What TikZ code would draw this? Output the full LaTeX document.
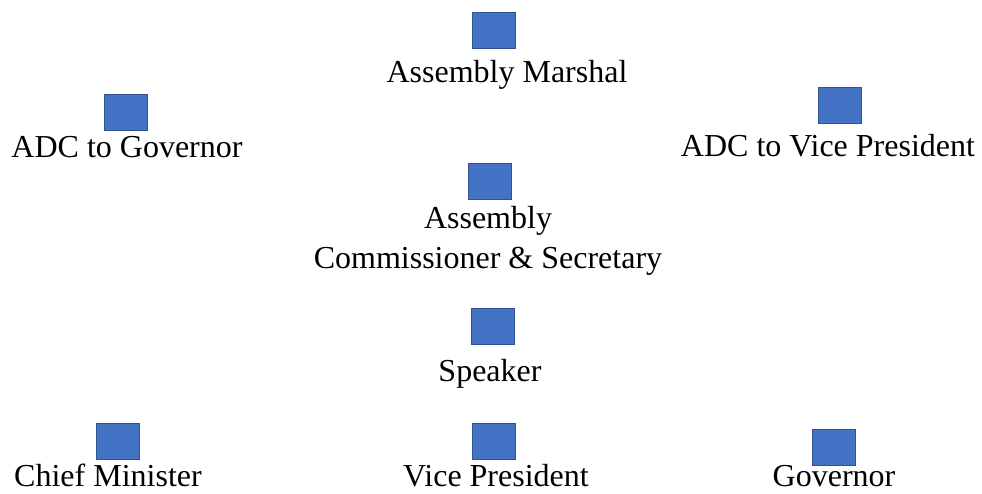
\documentclass[tikz,border=0pt]{standalone}
\usepackage{fontspec}
\setmainfont{Liberation Serif}
\usepackage{tikz}
\definecolor{boxfill}{HTML}{4472C4}
\definecolor{boxline}{HTML}{2F528F}
\tikzset{
  post/.style={draw=boxline, fill=boxfill, line width=1pt, minimum width=43pt, minimum height=36pt, inner sep=0pt},
  title/.style={font=\fontsize{32}{40}\selectfont, anchor=base, align=center, inner sep=0pt},
}

\begin{document}
\begin{tikzpicture}[x=1pt,y=-1pt]
  \useasboundingbox (0,0) rectangle (982,493);

  % top
  \node[post] (marshal) at (494,30) {};
  \node[title] (marshalt) at (507,82) {Assembly Marshal};

  % aides
  \node[post] (adcgov) at (125.5,112.5) {};
  \node[title] (adcgovt) at (127,157) {ADC to Governor};
  \node[post] (adcvp) at (840,105) {};
  \node[title] (adcvpt) at (828,156) {ADC to Vice President};

  % clerk
  \node[post] (clerk) at (489.5,181.5) {};
  \node[title] (clerkt) at (488,268) {Assembly\\Commissioner \& Secretary};

  \node[post] (speaker) at (493,326) {};
  \node[title] (speakert) at (490,381) {Speaker};

  % bottom row
  \node[post] (cm) at (118,441) {};
  \node[title] (cmt) at (108,486) {Chief Minister};
  \node[post] (vp) at (494,441) {};
  \node[title] (vpt) at (496,486) {Vice President};
  \node[post] (gov) at (834,447) {};
  \node[title] (govt) at (834,486) {Governor};
\end{tikzpicture}
\end{document}
